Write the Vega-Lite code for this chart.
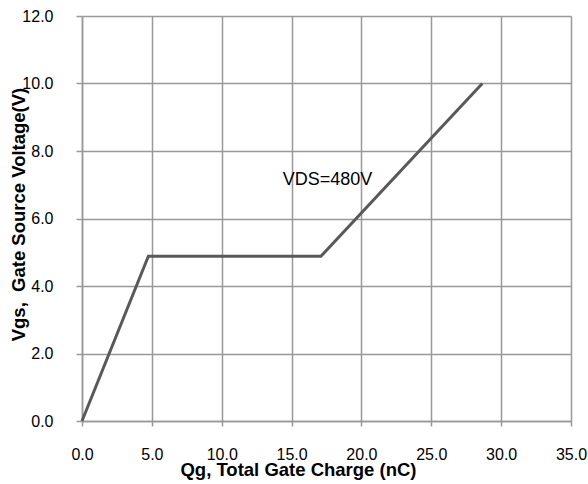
{
  "$schema": "https://vega.github.io/schema/vega-lite/v6.json",
  "width": 489,
  "height": 405,
  "autosize": {"type": "none"},
  "padding": {"left": 82, "top": 16, "right": 17, "bottom": 63},
  "background": "white",
  "config": {
    "font": "Liberation Sans",
    "view": {"stroke": null}
  },
  "layer": [
    {
      "data": {"values": [
        {"q": 0, "v": 0},
        {"q": 4.75, "v": 4.88},
        {"q": 17.1, "v": 4.88},
        {"q": 28.65, "v": 10.0}
      ]},
      "mark": {"type": "line", "color": "#595959", "strokeWidth": 3},
      "encoding": {
        "x": {
          "field": "q", "type": "quantitative",
          "scale": {"domain": [0, 35], "nice": false, "zero": false},
          "axis": {
            "title": "Qg, Total Gate Charge (nC)",
            "values": [0, 5, 10, 15, 20, 25, 30, 35],
            "format": ".1f",
            "labelFont": "Liberation Sans", "labelFontSize": 16, "labelColor": "#000",
            "labelPadding": 33, "labelBaseline": "alphabetic",
            "tickSize": 5, "tickColor": "#999", "tickWidth": 1.5,
            "domainColor": "#999", "domainWidth": 1.5,
            "grid": true, "gridColor": "#999", "gridWidth": 1.5,
            "titleFont": "Liberation Sans", "titleFontSize": 18.5, "titleFontWeight": "bold", "titleColor": "#000",
            "titleX": 216, "titleY": 54, "titleBaseline": "alphabetic", "titleAlign": "center",
            "labelFlush": false
          }
        },
        "y": {
          "field": "v", "type": "quantitative",
          "scale": {"domain": [0, 12], "nice": false},
          "axis": {
            "title": "Vgs,\u00a0 Gate Source Voltage(V)",
            "values": [0, 2, 4, 6, 8, 10, 12],
            "format": ".1f",
            "labelFont": "Liberation Sans", "labelFontSize": 16, "labelColor": "#000",
            "labelPadding": 23, "labelBaseline": "middle",
            "tickSize": 6, "tickColor": "#999", "tickWidth": 1.5,
            "domainColor": "#999", "domainWidth": 1.5,
            "grid": true, "gridColor": "#999", "gridWidth": 1.5,
            "titleFont": "Liberation Sans", "titleFontSize": 18.5, "titleFontWeight": "bold", "titleColor": "#000",
            "titleX": -64, "titleY": 198, "titleBaseline": "middle", "titleAlign": "center", "titleAngle": -90,
            "labelFlush": false
          }
        }
      }
    },
    {
      "data": {"values": [{"q": 14.37, "v": 7.15, "t": "VDS=480V"}]},
      "mark": {"type": "text", "align": "left", "baseline": "middle", "fontSize": 18, "font": "Liberation Sans", "color": "#000"},
      "encoding": {
        "x": {"field": "q", "type": "quantitative"},
        "y": {"field": "v", "type": "quantitative"},
        "text": {"field": "t"}
      }
    }
  ]
}
